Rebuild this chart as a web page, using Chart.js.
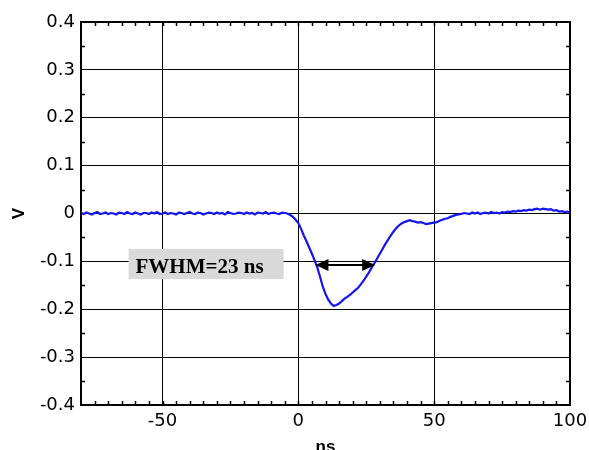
<!DOCTYPE html>
<html><head><meta charset="utf-8">
<script src="https://cdn.jsdelivr.net/npm/chart.js@4.4.0/dist/chart.umd.min.js"></script>
<style>html,body{margin:0;padding:0;background:#fff;}#wrap{width:589px;height:450px;}</style>
</head><body><div id="wrap"><canvas id="c" width="589" height="450"></canvas></div>
<script>
const timeNs = [
-80,-79,-78,-77,-76,-75,-74,-73,-72,-71,
-70,-69,-68,-67,-66,-65,-64,-63,-62,-61,
-60,-59,-58,-57,-56,-55,-54,-53,-52,-51,
-50,-49,-48,-47,-46,-45,-44,-43,-42,-41,
-40,-39,-38,-37,-36,-35,-34,-33,-32,-31,
-30,-29,-28,-27,-26,-25,-24,-23,-22,-21,
-20,-19,-18,-17,-16,-15,-14,-13,-12,-11,
-10,-9,-8,-7,-6,-5,-4,-3,-2,-1,
0,1,2,3,4,5,6,7,8,9,
10,11,12,13,14,15,16,17,18,19,
20,21,22,23,24,25,26,27,28,29,
30,31,32,33,34,35,36,37,38,39,
40,41,42,43,44,45,46,47,48,49,
50,51,52,53,54,55,56,57,58,59,
60,61,62,63,64,65,66,67,68,69,
70,71,72,73,74,75,76,77,78,79,
80,81,82,83,84,85,86,87,88,89,
90,91,92,93,94,95,96,97,98,99,100];
const voltsV = [
0.001,-0.001,0.002,0.000,-0.002,0.001,0.003,-0.001,0.000,0.002,
-0.001,0.001,0.000,-0.002,0.002,0.001,-0.001,0.003,0.000,-0.001,
0.002,0.000,-0.002,0.001,0.001,-0.001,0.002,0.000,0.003,-0.001,
0.000,0.002,-0.001,0.001,0.000,-0.002,0.002,0.001,-0.001,0.001,
0.003,0.000,-0.001,0.002,0.001,-0.002,0.000,0.002,0.001,-0.001,
0.002,0.000,0.001,-0.002,0.003,0.001,-0.001,0.000,0.002,0.001,
-0.001,0.002,0.000,0.001,-0.002,0.002,0.001,0.000,0.003,-0.001,
0.001,0.002,0.000,-0.001,0.002,0.001,0.000,-0.003,-0.007,-0.013,
-0.020,-0.032,-0.046,-0.058,-0.071,-0.084,-0.098,-0.113,-0.132,-0.153,
-0.168,-0.180,-0.188,-0.193,-0.191,-0.188,-0.183,-0.178,-0.174,-0.170,
-0.165,-0.160,-0.155,-0.148,-0.140,-0.132,-0.123,-0.113,-0.104,-0.094,
-0.084,-0.074,-0.064,-0.055,-0.046,-0.038,-0.031,-0.025,-0.021,-0.018,
-0.016,-0.014,-0.016,-0.017,-0.019,-0.018,-0.020,-0.022,-0.021,-0.020,
-0.019,-0.018,-0.015,-0.013,-0.011,-0.010,-0.007,-0.005,-0.003,-0.002,
-0.001,0.001,0.000,-0.001,0.002,0.000,0.002,-0.001,0.001,0.002,
0.000,0.003,0.001,0.002,0.000,0.003,0.002,0.004,0.003,0.005,
0.004,0.006,0.005,0.007,0.006,0.008,0.007,0.009,0.010,0.008,
0.010,0.009,0.008,0.009,0.006,0.007,0.004,0.005,0.003,0.004,0.002];
const xTickValues = [-50, 0, 50, 100];
const yTickValues = [-0.4, -0.3, -0.2, -0.1, 0, 0.1, 0.2, 0.3, 0.4];
const xAxisTitle = 'ns';
const yAxisTitle = 'V';
const fwhmLabel = 'FWHM=23 ns';
const fwhmStart = 6.3, fwhmEnd = 28.3, fwhmLevel = -0.1075;
const labelBox = {x0: -62.5, x1: -5.4, y0: -0.074, y1: -0.137, textY: -0.1237};

const framePlugin = {
  id: 'frame',
  afterDatasetsDraw(chart) {
    const {ctx, chartArea: a, scales: {x, y}} = chart;
    ctx.save();
    const bx0 = x.getPixelForValue(labelBox.x0), bx1 = x.getPixelForValue(labelBox.x1);
    const by0 = y.getPixelForValue(labelBox.y0), by1 = y.getPixelForValue(labelBox.y1);
    ctx.fillStyle = '#d9d9d9';
    ctx.fillRect(bx0, by0, bx1 - bx0, by1 - by0);
    ctx.fillStyle = '#000';
    ctx.font = 'bold 21px "Liberation Serif", "Times New Roman", serif';
    ctx.textBaseline = 'alphabetic';
    ctx.textAlign = 'left';
    ctx.fillText(fwhmLabel, bx0 + 7, y.getPixelForValue(labelBox.textY));
    const ax0 = x.getPixelForValue(fwhmStart), ax1 = x.getPixelForValue(fwhmEnd);
    const ay = y.getPixelForValue(fwhmLevel);
    ctx.strokeStyle = '#000';
    ctx.lineWidth = 2;
    ctx.beginPath(); ctx.moveTo(ax0 + 6, ay); ctx.lineTo(ax1 - 6, ay); ctx.stroke();
    ctx.beginPath();
    ctx.moveTo(ax0, ay); ctx.lineTo(ax0 + 13, ay - 6); ctx.lineTo(ax0 + 13, ay + 6); ctx.closePath();
    ctx.moveTo(ax1, ay); ctx.lineTo(ax1 - 13, ay - 6); ctx.lineTo(ax1 - 13, ay + 6); ctx.closePath();
    ctx.fill();
    ctx.lineWidth = 1.5;
    ctx.beginPath();
    for (let v = -75; v < 100; v += 5) {
      const px = Math.round(x.getPixelForValue(v)) + 0.5;
      ctx.moveTo(px, a.top); ctx.lineTo(px, a.top + 4);
      ctx.moveTo(px, a.bottom); ctx.lineTo(px, a.bottom - 4);
    }
    for (let k = -7; k <= 7; k += 2) {
      const py = Math.round(y.getPixelForValue(k * 0.05)) + 0.5;
      ctx.moveTo(a.left, py); ctx.lineTo(a.left + 4, py);
      ctx.moveTo(a.right, py); ctx.lineTo(a.right - 4, py);
    }
    ctx.stroke();
    ctx.lineWidth = 2;
    ctx.strokeRect(a.left, a.top, a.right - a.left, a.bottom - a.top);
    ctx.restore();
  }
};

const tickFont = {family: '"DejaVu Sans", sans-serif', size: 18};
const titleFont = {family: '"Liberation Sans", Arial, sans-serif', size: 17, weight: 'bold'};

new Chart(document.getElementById('c'), {
  type: 'line',
  data: {
    datasets: [{
      data: timeNs.map((t, i) => ({x: t, y: voltsV[i]})),
      borderColor: '#1515ee',
      borderWidth: 2.2,
      pointRadius: 0,
      tension: 0,
      fill: false
    }]
  },
  options: {
    responsive: false,
    devicePixelRatio: 1,
    animation: false,
    layout: {padding: {top: 22, right: 19, left: 0, bottom: 0}},
    plugins: {legend: {display: false}, tooltip: {enabled: false}},
    scales: {
      x: {
        type: 'linear', min: -80, max: 100,
        afterBuildTicks: s => { s.ticks = xTickValues.map(v => ({value: v})); },
        afterFit: s => { s.height = 45; s.paddingLeft = 0; s.paddingRight = 0; },
        ticks: {color: '#000', font: tickFont, padding: 6, maxRotation: 0, autoSkip: false},
        grid: {color: '#000', lineWidth: 1, drawTicks: false},
        border: {display: false},
        title: {display: true, text: xAxisTitle, color: '#000', font: titleFont, padding: {top: 0, bottom: -8}}
      },
      y: {
        type: 'linear', min: -0.4, max: 0.4,
        afterBuildTicks: s => { s.ticks = yTickValues.map(v => ({value: v})); },
        afterFit: s => { s.width = 81; s.paddingTop = 0; s.paddingBottom = 0; },
        ticks: {color: '#000', font: tickFont, padding: 6,
          callback: v => (Math.abs(v) < 1e-9 ? '0' : v.toFixed(1))},
        grid: {color: '#000', lineWidth: 1, drawTicks: false},
        border: {display: false},
        title: {display: true, text: yAxisTitle, color: '#000', font: titleFont, padding: {top: 9, bottom: 0}}
      }
    }
  },
  plugins: [framePlugin]
});
</script>
</body></html>
